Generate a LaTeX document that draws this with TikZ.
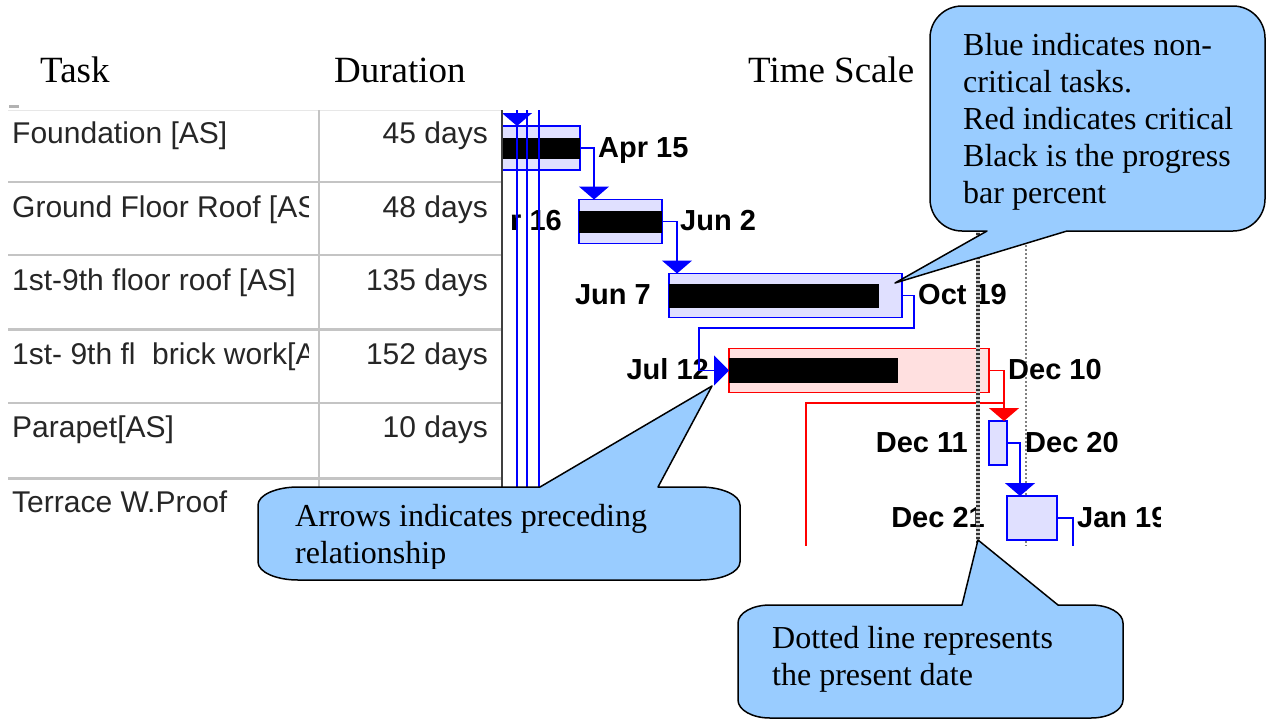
\documentclass[tikz,border=0pt]{standalone}
\usepackage{fontspec}
\setmainfont{Liberation Serif}
\setsansfont{Liberation Sans}
\usepackage{tikz}
\usetikzlibrary{arrows.meta}
\definecolor{callblue}{RGB}{153,204,255}
\definecolor{gridgray}{RGB}{196,196,196}

\begin{document}
\begin{tikzpicture}[
  x=1pt, y=-1pt,
  head/.style={font=\fontsize{37}{40}\selectfont, inner sep=0pt},
  cell/.style={font=\fontsize{30}{34}\sffamily, text=black!85, inner sep=0pt},
  lbl/.style={font=\fontsize{29}{34}\sffamily\bfseries, inner sep=0pt},
  bar/.style={draw=blue, fill=blue!12, line width=1.5pt, inner sep=0pt, outer sep=0pt, minimum height=44pt},
  critbar/.style={bar, draw=red, fill=red!12},
  prog/.style={fill=black, inner sep=0pt, outer sep=0pt, anchor=west},
  wire/.style={blue, line width=1.5pt},
  link/.style={wire, -{Triangle[width=30pt, length=13pt]}},
  critlink/.style={link, red},
  note/.style={fill=callblue, draw=black, line width=1.5pt, line join=round},
  notetext/.style={font=\fontsize{32}{37}\selectfont, align=left, inner sep=0pt, anchor=base west},
  rule/.style={gridgray, line width=2pt},
]
\useasboundingbox (0,0) rectangle (1269,721);

% Headings
\node[head, anchor=base west] (hTask) at (40,82) {Task};
\node[head, anchor=base west] (hDur) at (334,82) {Duration};
\node[head, anchor=base west] (hTime) at (748,82) {Time Scale};

% Table grid
\draw[gridgray!40, line width=1pt] (8,110) -- (502,110);
\fill[gray!60] (9,105) rectangle (19,108);
\foreach \y in {182,255,403} \draw[rule] (8,\y) -- (502,\y);
\foreach \y in {329,478} \draw[rule, line width=3pt] (8,\y) -- (502,\y);
\draw[rule] (319,110) -- (319,515);
\draw[black!75, line width=2pt] (502,110) -- (502,545);

% Tasks
\begin{scope}
\clip (0,100) rectangle (308,530);
\node[cell, anchor=base west] (task1) at (12,143) {Foundation [AS]};
\node[cell, anchor=base west] (task2) at (12,217) {Ground Floor Roof [AS]};
\node[cell, anchor=base west] (task3) at (12,290) {1st-9th floor roof [AS]};
\node[cell, anchor=base west] (task4) at (12,364) {1st- 9th fl\ \ brick work[AS]};
\node[cell, anchor=base west] (task5) at (12,437) {Parapet[AS]};
\node[cell, anchor=base west] (task6) at (12,512) {Terrace W.Proof};
\end{scope}

% Durations
\node[cell, anchor=base east] (dur1) at (488,143) {45 days};
\node[cell, anchor=base east] (dur2) at (488,217) {48 days};
\node[cell, anchor=base east] (dur3) at (488,290) {135 days};
\node[cell, anchor=base east] (dur4) at (488,364) {152 days};
\node[cell, anchor=base east] (dur5) at (488,437) {10 days};

% Chart
\begin{scope}
\clip (503,110) rectangle (1160,545);

\coordinate (gridtop) at (1026,105);
\coordinate (gridbot) at (1026,550);
\draw[gray, line width=1.2pt, dash pattern=on 1.5pt off 2.5pt] (gridtop) -- (gridbot);

% Bars
\node[bar, minimum width=110pt] (b1) at (525,148) {};
\node[prog, minimum width=110pt, minimum height=21pt] (p1) at (b1.west) {};
\node[bar, minimum width=83pt] (b2) at (620.5,221.5) {};
\node[prog, minimum width=83pt, minimum height=22pt] (p2) at (b2.west) {};
\node[bar, minimum width=233pt] (b3) at (785.5,295.5) {};
\node[prog, minimum width=210pt, minimum height=24pt] (p3) at (b3.west) {};
\node[critbar, minimum width=260pt] (b4) at (859,370.5) {};
\node[prog, minimum width=169pt, minimum height=25pt] (p4) at (b4.west) {};
\node[bar, minimum width=18pt] (b5) at (998,443) {};
\node[bar, minimum width=50pt] (b6) at (1032,518) {};

% Dates
\node[lbl, anchor=base east] (s2) at (562,230) {r 16};
\node[lbl, anchor=base west] (e1) at (598,157) {Apr 15};
\node[lbl, anchor=base west] (e2) at (680,230) {Jun 2};
\node[lbl, anchor=base east] (s3) at (651,304) {Jun 7};
\node[lbl, anchor=base west] (e3) at (918,304) {Oct 19};
\node[lbl, anchor=base east] (s4) at (709,379) {Jul 12};
\node[lbl, anchor=base west] (e4) at (1008,379) {Dec 10};
\node[lbl, anchor=base east] (s5) at (968,452) {Dec 11};
\node[lbl, anchor=base west] (e5) at (1025,452) {Dec 20};
\node[lbl, anchor=base east] (s6) at (985,527) {Dec 21};
\node[lbl, anchor=base west] (e6) at (1077,527) {Jan 19};

% Links
\coordinate (in1) at (517,100);
\coordinate (off1) at (517,560);
\coordinate (in2) at (527,100);
\coordinate (off2) at (527,560);
\coordinate (in3) at (539,100);
\coordinate (off3) at (539,560);
\draw[wire] (in1) -- (off1);
\draw[wire] (in2) -- (off2);
\draw[wire] (in3) -- (off3);
\draw[link] (in1) -- (in1 |- b1.north);
\draw[link] (b1.east) -| ([xshift=15pt]b2.north west);
\draw[link] (b2.east) -| ([xshift=8pt]b3.north west);
\coordinate (bend34) at (699,328);
\draw[wire, -{Triangle[width=30pt, length=15pt]}] (b3.east) -- ++(12,0) |- (bend34) |- (b4.west);
\coordinate (fork) at (1004,403);
\coordinate (critoff) at (806,560);
\draw[wire, red] (b4.east) -| (fork) -| (critoff);
\draw[critlink] (b4.east) -| ([xshift=15pt]b5.north west);
\draw[link] (b5.east) -| ([xshift=13pt]b6.north west);
\coordinate (off6) at (1073,560);
\draw[wire] (b6.east) -| (off6);

% Present date
\coordinate (nowtop) at (978,105);
\coordinate (nowbot) at (978,550);
\draw[line width=4.5pt, gray!35] (nowtop) -- (nowbot);
\draw[line width=4.5pt, black!80, dash pattern=on 2pt off 2pt] (nowtop) -- (nowbot);
\end{scope}

% Callouts (text anchored on the baseline of its last line)
\coordinate (tipA) at (895,283);
\draw[note] (987,231) -- (tipA) -- (1067,231) -- (1233,231) .. controls (1250.7,231) and (1265,216.7) .. (1265,199) -- (1265,38) .. controls (1265,20.3) and (1250.7,6) .. (1233,6) -- (962,6) .. controls (944.3,6) and (930,20.3) .. (930,38) -- (930,199) .. controls (930,216.7) and (944.3,231) .. (962,231) -- cycle;
\node[notetext] (noteA) at (963,203) {Blue indicates non-\\critical tasks.\\Red indicates critical\\Black is the progress\\bar percent};

\coordinate (tipB) at (712,386);
\draw[note] (540,487) -- (tipB) -- (658,487) -- (700,487) .. controls (722,487) and (740,495) .. (740,505) -- (740,562) .. controls (740,572) and (722,580) .. (700,580) -- (298,580) .. controls (276,580) and (258,572) .. (258,562) -- (258,505) .. controls (258,495) and (276,487) .. (298,487) -- cycle;
\begin{scope}
\clip (258,480) rectangle (740,568);
\node[notetext] (noteB) at (295,563) {Arrows indicates preceding\\relationship};
\end{scope}

\coordinate (tipC) at (978,540);
\draw[note] (962,605) -- (tipC) -- (1058,605) -- (1091,605) .. controls (1108.7,605) and (1123,613) .. (1123,623) -- (1123,700) .. controls (1123,710) and (1108.7,718) .. (1091,718) -- (770,718) .. controls (752.3,718) and (738,710) .. (738,700) -- (738,623) .. controls (738,613) and (752.3,605) .. (770,605) -- cycle;
\node[notetext] (noteC) at (772,685) {Dotted line represents\\the present date};

\end{tikzpicture}
\end{document}
